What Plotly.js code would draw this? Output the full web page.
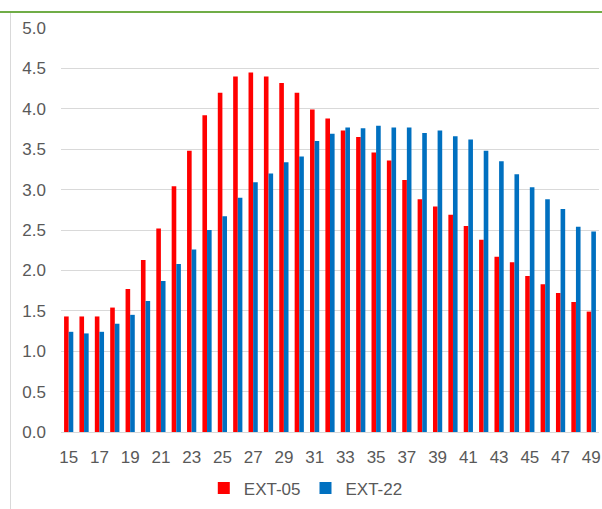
<!DOCTYPE html>
<html>
<head>
<meta charset="utf-8">
<script src="https://cdn.plot.ly/plotly-3.0.1.min.js"></script>
<style>
html,body{margin:0;padding:0;background:#fff;overflow:hidden;}
#wrap{position:relative;width:602px;height:509px;}
#chart{position:absolute;left:0;top:0;width:602px;height:509px;}
#topline{position:absolute;left:0;top:11px;width:602px;height:2px;background:#70ad47;}
#leftline{position:absolute;left:10px;top:13px;width:1px;height:496px;background:#d9d9d9;}
</style>
</head>
<body>
<div id="wrap">
<div id="chart"></div>
<div id="topline"></div>
<div id="leftline"></div>
</div>
<script>
const ages = [15,16,17,18,19,20,21,22,23,24,25,26,27,28,29,30,31,32,33,34,35,36,37,38,39,40,41,42,43,44,45,46,47,48,49];
const ext05 = [1.43,1.43,1.43,1.54,1.77,2.13,2.52,3.04,3.48,3.92,4.20,4.40,4.45,4.40,4.32,4.20,3.99,3.88,3.73,3.65,3.46,3.36,3.12,2.88,2.79,2.69,2.55,2.38,2.17,2.10,1.93,1.83,1.72,1.61,1.49];
const ext22 = [1.24,1.22,1.24,1.34,1.45,1.62,1.87,2.08,2.26,2.50,2.67,2.90,3.09,3.20,3.34,3.41,3.60,3.69,3.77,3.76,3.79,3.77,3.77,3.70,3.73,3.66,3.62,3.48,3.35,3.19,3.03,2.88,2.76,2.54,2.48];
const xTicks = [15,17,19,21,23,25,27,29,31,33,35,37,39,41,43,45,47,49];
const yTicks = [0,0.5,1,1.5,2,2.5,3,3.5,4,4.5,5];
const yTickText = ['0.0','0.5','1.0','1.5','2.0','2.5','3.0','3.5','4.0','4.5','5.0'];

const traces = [
  {type:'bar', name:'EXT-05', x:ages, y:ext05, marker:{color:'#ff0000'}},
  {type:'bar', name:'EXT-22', x:ages, y:ext22, marker:{color:'#0070c0'}}
];
const layout = {
  width:602, height:509,
  margin:{l:61, r:3, t:28, b:74},
  paper_bgcolor:'rgba(0,0,0,0)', plot_bgcolor:'#fff',
  font:{family:'"Liberation Sans", Arial, sans-serif', size:17, color:'#595959'},
  barmode:'group', bargap:0.4, bargroupgap:0,
  showlegend:true,
  legend:{orientation:'h', x:0.455, xanchor:'center', y:-0.14, yanchor:'middle', font:{size:17, color:'#595959'}, itemwidth:30},
  xaxis:{type:'linear', range:[14.5,49.5], tickvals:xTicks, ticktext:xTicks.map(String), showgrid:false, zeroline:false, showline:true, linecolor:'#d9d9d9', linewidth:1, ticks:'', ticklen:0, tickfont:{size:17,color:'#595959'}, ticklabelstandoff:10},
  yaxis:{range:[0,5], tickvals:yTicks, ticktext:yTickText, showgrid:true, gridcolor:'#d9d9d9', gridwidth:1, zeroline:false, showline:false, ticks:'', tickfont:{size:17,color:'#595959'}, ticklabelstandoff:14}
};
Plotly.newPlot('chart', traces, layout, {displayModeBar:false, staticPlot:true});
</script>
</body>
</html>
